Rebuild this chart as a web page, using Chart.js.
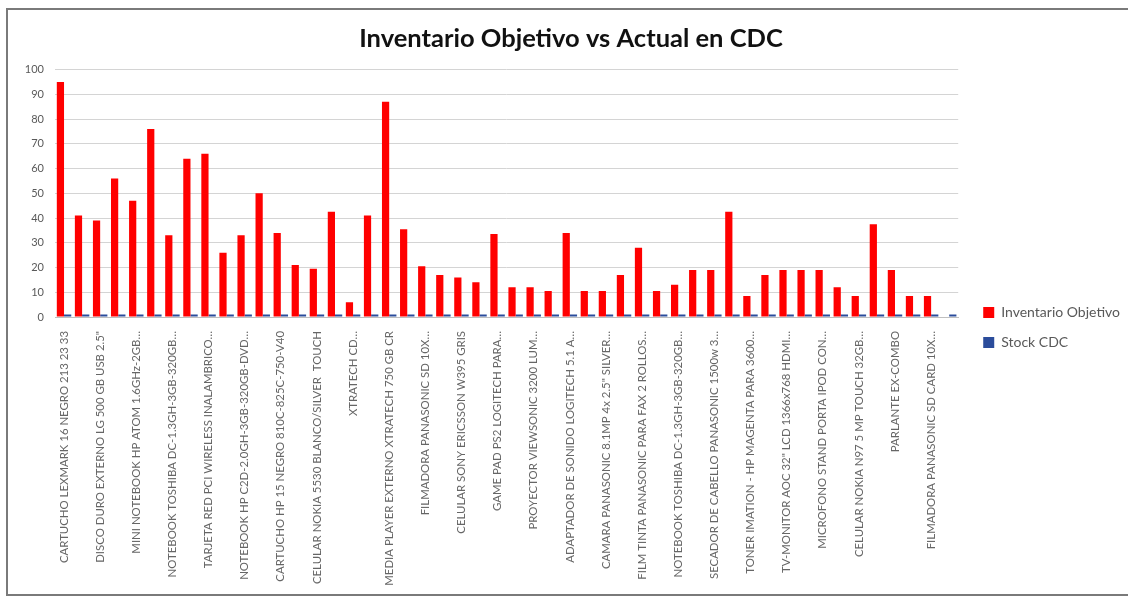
<!DOCTYPE html>
<html>
<head>
<meta charset="utf-8">
<script src="https://cdn.jsdelivr.net/npm/chart.js@4/dist/chart.umd.min.js"></script>
<style>
  body { margin: 0; background: #fff; }
  #marco {
    position: absolute; left: 6px; top: 8px; width: 1200px; height: 584px;
    border: 2px solid #7a7a7a; background: #fff;
  }
  #grafico { position: absolute; left: 0; top: 0; }
</style>
</head>
<body>
<div id="marco"></div>
<canvas id="grafico" width="1128" height="597"></canvas>
<script>
// productos (solo se leen los rótulos pares, los otros quedan vacíos)
const productos = [
  "CARTUCHO LEXMARK 16 NEGRO 213 23 33", "",
  "DISCO DURO EXTERNO LG 500 GB USB 2.5\"", "",
  "MINI NOTEBOOK HP ATOM 1.6GHz-2GB…", "",
  "NOTEBOOK TOSHIBA DC-1.3GH-3GB-320GB…", "",
  "TARJETA RED PCI WIRELESS INALAMBRICO…", "",
  "NOTEBOOK HP C2D-2.0GH-3GB-320GB-DVD…", "",
  "CARTUCHO HP 15 NEGRO 810C-825C-750-V40", "",
  "CELULAR NOKIA 5530 BLANCO/SILVER  TOUCH", "",
  "XTRATECH CD…", "",
  "MEDIA PLAYER EXTERNO XTRATECH 750 GB CR", "",
  "FILMADORA PANASONIC SD 10X…", "",
  "CELULAR SONY ERICSSON W395 GRIS", "",
  "GAME PAD PS2 LOGITECH PARA…", "",
  "PROYECTOR VIEWSONIC 3200 LUM…", "",
  "ADAPTADOR DE SONIDO LOGITECH 5.1 A…", "",
  "CAMARA PANASONIC 8.1MP 4x 2.5\" SILVER…", "",
  "FILM TINTA PANASONIC PARA FAX 2 ROLLOS…", "",
  "NOTEBOOK TOSHIBA DC-1.3GH-3GB-320GB…", "",
  "SECADOR DE CABELLO PANASONIC 1500w 3…", "",
  "TONER IMATION - HP MAGENTA PARA 3600…", "",
  "TV-MONITOR AOC 32\" LCD 1366x768 HDMI…", "",
  "MICROFONO STAND PORTA IPOD CON…", "",
  "CELULAR NOKIA N97 5 MP TOUCH 32GB…", "",
  "PARLANTE EX-COMBO", "",
  "FILMADORA PANASONIC SD CARD 10X…", ""
];

// valores
const inventarioObjetivo = [
  95, 41, 39, 56, 47, 76, 33, 64, 66, 26,
  33, 50, 34, 21, 19.5, 42.5, 6, 41, 87, 35.5,
  20.5, 17, 16, 14, 33.5, 12, 12, 10.5, 34, 10.5,
  10.5, 17, 28, 10.5, 13, 19, 19, 42.5, 8.5, 17,
  19, 19, 19, 12, 8.5, 37.5, 19, 8.5, 8.5, 0
];
const stockCDC = [
  1, 1, 1, 1, 1, 1, 1, 1, 1, 1,
  1, 1, 1, 1, 1, 1, 1, 1, 1, 1,
  1, 1, 1, 1, 1, 1, 1, 1, 1, 1,
  1, 1, 1, 1, 1, 1, 1, 1, 1, 1,
  1, 1, 1, 1, 1, 1, 1, 1, 1, 1
];
const ticksY = [0, 10, 20, 30, 40, 50, 60, 70, 80, 90, 100];

// la leyenda de Excel queda más abajo y un poco más a la derecha
const moverLeyenda = {
  id: "moverLeyenda",
  afterLayout(chart) {
    const l = chart.legend;
    l.left += 9;
    l.right += 9;
    l.top += 29;
    l.bottom += 29;
  },
};

const ctx = document.querySelector("#grafico").getContext("2d");

new Chart(ctx, {
  type: "bar",
  data: {
    labels: productos,
    datasets: [
      {
        label: "Inventario Objetivo",
        data: inventarioObjetivo,
        backgroundColor: "#ff0000",
        borderWidth: 0,
        categoryPercentage: 0.8,
        barPercentage: 1.0,
      },
      {
        label: "Stock CDC",
        data: stockCDC,
        backgroundColor: "#2b4c9b",
        borderWidth: 0,
        categoryPercentage: 0.8,
        barPercentage: 1.0,
      },
    ],
  },
  options: {
    responsive: false,
    animation: false,
    layout: { padding: { left: 21, right: 7, top: 0, bottom: 0 } },
    plugins: {
      title: {
        display: true,
        text: "Inventario Objetivo vs Actual en CDC",
        color: "#111",
        font: { family: "Lato", size: 25.5, weight: "bold" },
        padding: { top: 23, bottom: 16 },
      },
      legend: {
        position: "right",
        labels: {
          boxWidth: 11,
          boxHeight: 11,
          padding: 16,
          color: "#595959",
          font: { family: "Lato", size: 14 },
        },
      },
      tooltip: { enabled: false },
    },
    scales: {
      x: {
        grid: { display: false },
        border: { color: "#bfbfbf" },
        ticks: {
          autoSkip: false,
          minRotation: 90,
          maxRotation: 90,
          padding: 6,
          color: "#666666",
          font: { family: "Lato", size: 11.4 },
        },
        afterFit: (scale) => { scale.height = 280; },
      },
      y: {
        min: 0,
        max: 100,
        afterBuildTicks: (scale) => { scale.ticks = ticksY.map((v) => ({ value: v })); },
        grid: { color: "#d4d4d4", drawTicks: false },
        border: { display: false },
        ticks: {
          padding: 11,
          color: "#595959",
          font: { family: "Lato", size: 11 },
        },
        afterFit: (scale) => { scale.width = 34; },
      },
    },
  },
  plugins: [moverLeyenda],
});
</script>
</body>
</html>
